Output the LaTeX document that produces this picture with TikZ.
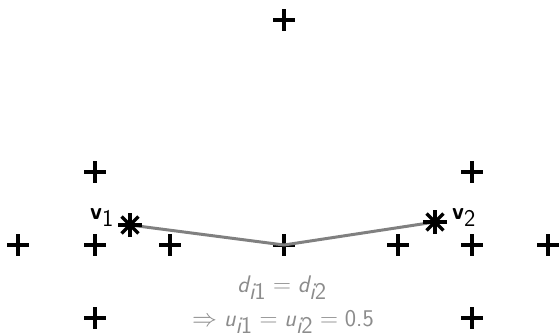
\documentclass[tikz,border=0pt]{standalone}
\newcommand{\sit}[1]{\textsf{\itshape #1}}
\begin{document}
\begin{tikzpicture}[x=1pt,y=-1pt,
  link/.style={draw=black!50,line width=3pt},
  mk/.style={line width=3.3pt},
  lbl/.style={inner sep=0pt,font=\sffamily\fontsize{24}{28}\selectfont},
  eq/.style={text=black!45,inner sep=0pt,font=\fontsize{24}{28}\selectfont}
]
\useasboundingbox (0,0) rectangle (560,333);
\foreach \nm/\px/\py in {t/284/20, a/95/172, b/472/172,
   c1/18/245, c2/95/245, c3/170/245, c4/284/245, c5/398/245, c6/472/245, c7/548/245,
   d1/95/318, d2/472/318}{
  \coordinate (\nm) at (\px,\py);
  \draw[mk] (\px-11,\py) -- (\px+11,\py);
  \draw[mk] (\px,\py-11) -- (\px,\py+11);
}
\coordinate (s1) at (130,225);
\coordinate (s2) at (435,222);
\draw[link] (s1) -- (c4) -- (s2);
\foreach \st in {s1,s2}{
  \foreach \ang in {0,45,90,135}{
    \draw[line width=3.3pt] (\st) ++(\ang:12) -- ++(\ang+180:24);
  }
}
\node[lbl,anchor=base east] (v1) at (114,219) {$\textsf{\bfseries v}_{\textsf{1}}$};
\node[lbl,anchor=base west] (v2) at (452,219) {$\textsf{\bfseries v}_{\textsf{2}}$};
\node[eq,anchor=base] (e1) at (282,292) {$\sit{d}_{\sit{i}\textsf{1}} = \sit{d}_{\sit{i}\textsf{2}}$};
\node[eq,anchor=base] (e2) at (283,326) {$\Rightarrow \sit{u}_{\sit{i}\textsf{1}} = \sit{u}_{\sit{i}\textsf{2}} = \textsf{0.5}$};
\end{tikzpicture}
\end{document}
